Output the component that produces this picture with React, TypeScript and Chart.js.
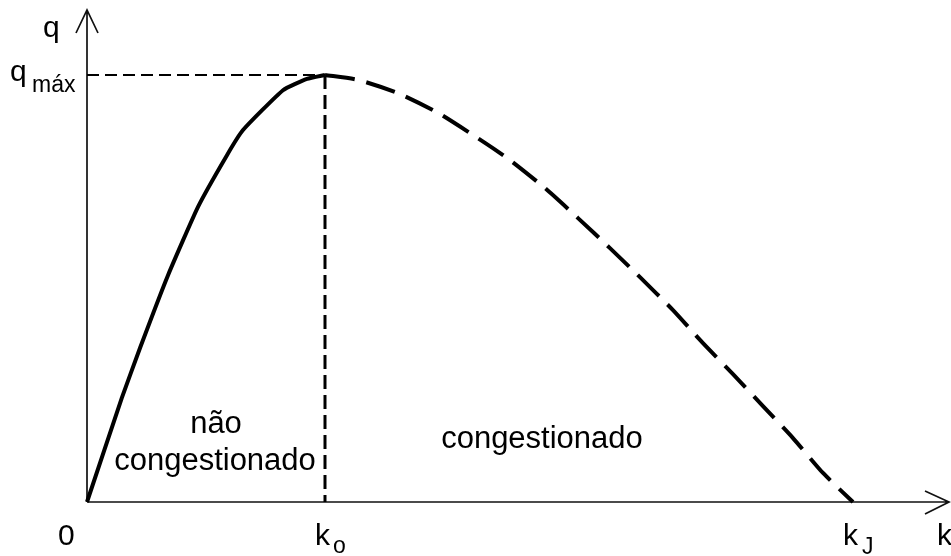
import React, { useEffect, useRef } from "react";
import { Chart, registerables } from "chart.js";

Chart.register(...registerables);

// Density (k) and flow (q) readings, in relative units (axis 0..100)
const K_FREE = [0, 4.03, 6.15, 9.4, 12.88, 16.24, 18.1, 22.74, 25.52, 27.61];
const Q_FREE = [0, 21.1, 31.3, 46.1, 60.0, 70.5, 75.6, 83.7, 86.0, 86.8];

const K_CONG = [27.61, 31.44, 36.08, 40.72, 46.17, 49.07, 53.13, 56.96, 60.67, 64.15, 67.98, 71.35, 74.94, 78.42, 81.9, 85.38, 88.86];
const Q_CONG = [86.8, 85.8, 83.1, 79.1, 73.0, 69.5, 63.8, 57.7, 51.6, 45.7, 39.0, 32.5, 26.0, 19.5, 13.0, 5.9, 0];

const K0 = 27.61;
const KJ = 88.86;
const QMAX = 86.8;
const AXIS_MAX = 100;

const FONT = "'Liberation Sans', Arial, sans-serif";

const toPts = (xs: number[], ys: number[]) => xs.map((x, i) => ({ x, y: ys[i] }));

const axesPlugin = {
  id: "axesArrows",
  beforeDatasetsDraw(chart: any) {
    const { ctx, scales } = chart;
    const xs = scales.x;
    const ys = scales.y;
    const x0 = xs.getPixelForValue(0);
    const y0 = ys.getPixelForValue(0);
    const xEnd = xs.getPixelForValue(AXIS_MAX);
    const yEnd = ys.getPixelForValue(AXIS_MAX);
    ctx.save();
    ctx.strokeStyle = "#111";
    ctx.lineWidth = 1.7;
    ctx.beginPath();
    ctx.moveTo(x0, y0);
    ctx.lineTo(x0, yEnd);
    ctx.moveTo(x0, y0);
    ctx.lineTo(xEnd, y0);
    // y arrow
    ctx.moveTo(x0 - 11, yEnd + 23);
    ctx.lineTo(x0, yEnd);
    ctx.lineTo(x0 + 11, yEnd + 23);
    // x arrow
    ctx.moveTo(xEnd - 24, y0 - 11);
    ctx.lineTo(xEnd, y0);
    ctx.lineTo(xEnd - 24, y0 + 12);
    ctx.stroke();
    ctx.restore();
  },
  afterDraw(chart: any) {
    const { ctx, scales } = chart;
    const xs = scales.x;
    const ys = scales.y;
    const x0 = xs.getPixelForValue(0);
    const y0 = ys.getPixelForValue(0);
    const xk0 = xs.getPixelForValue(K0);
    const xkj = xs.getPixelForValue(KJ);
    const xEnd = xs.getPixelForValue(AXIS_MAX);
    const yq = ys.getPixelForValue(QMAX);
    const yEnd = ys.getPixelForValue(AXIS_MAX);
    ctx.save();
    ctx.fillStyle = "#000";
    ctx.textAlign = "left";
    ctx.textBaseline = "alphabetic";
    const big = `30px ${FONT}`;
    const small = `23px ${FONT}`;
    // y-axis labels
    ctx.font = big;
    ctx.fillText("q", x0 - 44, yEnd + 27);
    ctx.fillText("q", x0 - 77, yq + 6);
    ctx.font = small;
    ctx.fillText("máx", x0 - 55, yq + 17);
    // x-axis labels
    ctx.font = big;
    ctx.fillText("0", x0 - 29, y0 + 43);
    ctx.fillText("k", xk0 - 10, y0 + 43);
    ctx.fillText("k", xkj - 10, y0 + 43);
    ctx.fillText("k", xEnd - 12, y0 + 43);
    ctx.font = small;
    ctx.fillText("o", xk0 + 8, y0 + 51);
    ctx.fillText("J", xkj + 9, y0 + 52);
    // region labels
    ctx.font = `31px ${FONT}`;
    ctx.textAlign = "center";
    const midFree = (x0 + xk0) / 2;
    ctx.fillText("não", midFree + 10, y0 - 69);
    ctx.fillText("congestionado", midFree + 9, y0 - 32);
    ctx.fillText("congestionado", (xk0 + xkj) / 2 - 47, y0 - 54);
    ctx.restore();
  },
};

export default function App() {
  const ref = useRef<HTMLCanvasElement | null>(null);
  useEffect(() => {
    if (!ref.current) return;
    const chart = new Chart(ref.current, {
      type: "scatter",
      data: {
        datasets: [
          {
            label: "não congestionado",
            data: toPts(K_FREE, Q_FREE),
            showLine: true,
            borderColor: "#000",
            borderWidth: 4,
            pointRadius: 0,
            tension: 0.15,
            fill: false,
          },
          {
            label: "congestionado",
            data: toPts(K_CONG, Q_CONG),
            showLine: true,
            borderColor: "#000",
            borderWidth: 4,
            borderDash: [30, 12],
            borderCapStyle: "butt",
            pointRadius: 0,
            tension: 0.2,
            fill: false,
          },
          {
            label: "qmax",
            data: [
              { x: 0, y: QMAX },
              { x: K0, y: QMAX },
            ],
            showLine: true,
            borderColor: "#000",
            borderWidth: 2,
            borderDash: [12, 6],
            pointRadius: 0,
          },
          {
            label: "k0",
            data: [
              { x: K0, y: QMAX },
              { x: K0, y: 0 },
            ],
            showLine: true,
            borderColor: "#000",
            borderWidth: 3,
            borderDash: [14, 6],
            pointRadius: 0,
          },
        ],
      },
      options: {
        animation: false,
        responsive: false,
        clip: false as any,
        layout: { padding: { left: 87, top: 10, right: 2, bottom: 54 } },
        plugins: {
          legend: { display: false },
          tooltip: { enabled: false },
        },
        scales: {
          x: { type: "linear", min: 0, max: AXIS_MAX, display: false },
          y: { type: "linear", min: 0, max: AXIS_MAX, display: false },
        },
      },
      plugins: [axesPlugin],
    });
    return () => chart.destroy();
  }, []);
  return (
    <div style={{ position: "fixed", left: 0, top: 0, width: 951, height: 556, background: "#fff" }}>
      <canvas ref={ref} width={951} height={556} style={{ width: 951, height: 556, display: "block" }} />
    </div>
  );
}
